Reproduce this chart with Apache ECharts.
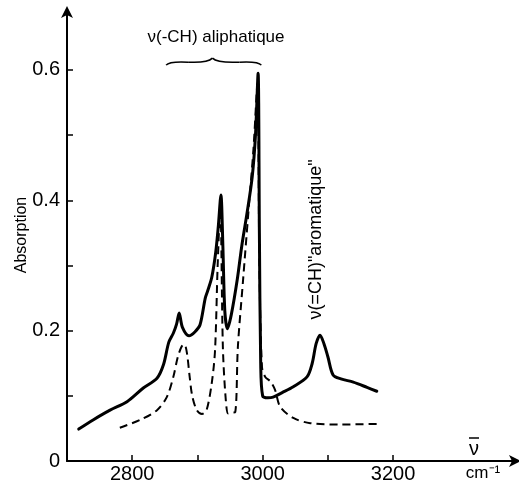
<!DOCTYPE html>
<html><head><meta charset="utf-8">
<script src="https://cdn.jsdelivr.net/npm/echarts@6/dist/echarts.min.js"></script>
<style>html,body{margin:0;padding:0;background:#fff}#c{width:519px;height:488px}</style>
</head><body><div id="c"></div>
<script>
// wavenumber (cm-1) and absorption for solid curve
const solidX = [2718,2740,2766,2792,2817,2838,2848,2856,2863,2868,2872,2877,2887,2896,2904,2912,2916,2922,2928,2932,2936,2939,2942,2946,2952,2961,2968,2976,2984,2989,2993,2995,2997,3000,3008,3016,3030,3047,3068,3076,3082,3088,3094,3100,3108,3120,3139,3160,3175];
const solidY = [0.049,0.063,0.078,0.091,0.112,0.127,0.148,0.182,0.196,0.210,0.227,0.205,0.192,0.198,0.209,0.250,0.262,0.282,0.320,0.360,0.408,0.330,0.230,0.203,0.225,0.278,0.330,0.380,0.436,0.500,0.595,0.350,0.150,0.100,0.097,0.098,0.105,0.114,0.129,0.150,0.180,0.193,0.180,0.160,0.132,0.126,0.121,0.113,0.107];
// dashed curve
const dashX = [2781,2812,2838,2853,2863,2870,2876,2880,2884,2888,2892,2899,2907,2914,2922,2927,2931,2935,2939,2943,2947,2952,2958,2962,2970,2978,2986,2992,2995,2999,3004,3012,3019,3027,3047,3073,3120,3180];
const dashY = [0.051,0.063,0.078,0.098,0.129,0.160,0.176,0.179,0.165,0.130,0.100,0.078,0.072,0.078,0.120,0.170,0.300,0.390,0.175,0.100,0.073,0.074,0.075,0.175,0.278,0.380,0.480,0.580,0.300,0.144,0.129,0.122,0.109,0.083,0.066,0.058,0.056,0.057];
const xTicks = [2800,2900,3000,3100,3200];
const xLabels = [2800,3000,3200];
const yTicks = [0.1,0.2,0.3,0.4,0.5,0.6];
const yLabels = [0,0.2,0.4,0.6];

const FONT = 'Liberation Sans';
const chart = echarts.init(document.getElementById('c'));
const zip = (a,b)=>a.map((v,i)=>[v,b[i]]);
chart.setOption({
  animation:false,
  grid:{left:67,right:2,top:10,bottom:27},
  xAxis:{type:'value',min:2700,max:3390,
    axisLine:{lineStyle:{color:'#000',width:2},symbol:['none','arrow'],symbolSize:[9,12],symbolOffset:[0,4]},
    axisTick:{inside:true,length:6,lineStyle:{color:'#000',width:1.5},customValues:xTicks},
    axisLabel:{customValues:xLabels,color:'#000',fontFamily:FONT,fontSize:20,margin:3,formatter:v=>String(v)},
    splitLine:{show:false}},
  yAxis:{type:'value',min:0,max:0.692,
    axisLine:{lineStyle:{color:'#000',width:2},symbol:['none','arrow'],symbolSize:[9,12],symbolOffset:[0,4]},
    axisTick:{inside:true,length:6,lineStyle:{color:'#000',width:1.5},customValues:yTicks},
    axisLabel:{customValues:yLabels,color:'#000',fontFamily:FONT,fontSize:20,margin:7,
      formatter:v=>v===0?'0':v.toFixed(1)},
    splitLine:{show:false}},
  series:[
    {type:'line',data:zip(solidX,solidY),showSymbol:false,smooth:0.3,
     lineStyle:{color:'#000',width:3,join:'round',cap:'round'},z:3},
    {type:'line',data:zip(dashX,dashY),showSymbol:false,smooth:0.3,
     lineStyle:{color:'#000',width:2,type:[8,5]},z:2}
  ]
});
const p = (x,y)=>chart.convertToPixel({gridIndex:0},[x,y]);
const b0 = p(2852,0.612), b1 = p(2998,0.612), bm = p(2923,0.612);
const by = b0[1];
const bs = {stroke:'#000',lineWidth:1.5,fill:null};
const bc = (x1,y1,cx,cy,x2,y2)=>({type:'bezierCurve',shape:{x1,y1,cpx1:cx,cpy1:cy,x2,y2},style:bs});
chart.setOption({graphic:[
  bc(b0[0],by+3,b0[0]+3,by-1,b0[0]+22,by),
  bc(b0[0]+22,by,bm[0]-5,by+1,bm[0],by-4),
  bc(bm[0],by-4,bm[0]+5,by+1,b1[0]-22,by),
  bc(b1[0]-22,by,b1[0]-3,by-1,b1[0],by+3),
  {type:'text',x:216,y:37,style:{text:'ν(-CH) aliphatique',fill:'#000',font:`17px "${FONT}"`,align:'center',verticalAlign:'middle'}},
  {type:'text',x:p(3082,0)[0],y:p(0,0.34)[1],rotation:Math.PI/2,style:{text:'ν(=CH)"aromatique"',fill:'#000',font:`18px "${FONT}"`,align:'center',verticalAlign:'middle'}},
  {type:'text',x:22,y:235,rotation:Math.PI/2,style:{text:'Absorption',fill:'#000',font:`16px "${FONT}"`,align:'center',verticalAlign:'middle'}},
  {type:'text',x:474,y:449,style:{text:'ν',fill:'#000',font:`20px "${FONT}"`,align:'center',verticalAlign:'middle'}},
  {type:'line',shape:{x1:469,y1:438,x2:479,y2:438},style:{stroke:'#000',lineWidth:1.5}},
  {type:'text',x:483,y:473,style:{text:'cm\u207B\u00B9',fill:'#000',font:`17px "${FONT}"`,align:'center',verticalAlign:'middle'}}
]});
</script></body></html>
